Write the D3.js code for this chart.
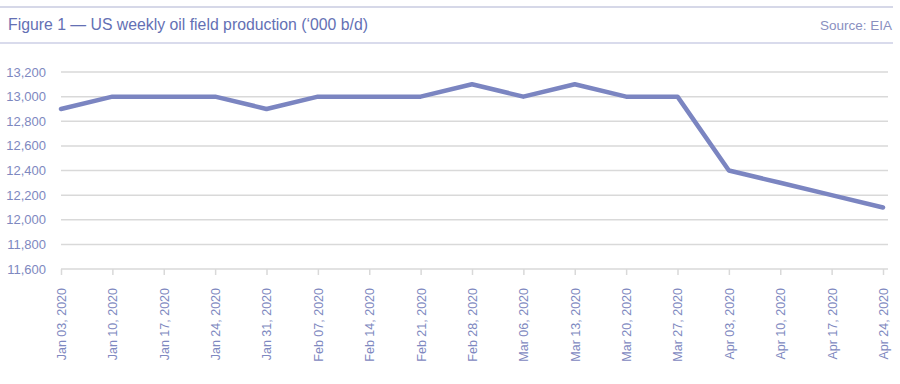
<!DOCTYPE html>
<html>
<head>
<meta charset="utf-8">
<script src="https://cdn.jsdelivr.net/npm/d3@7"></script>
<style>
  html, body { margin: 0; padding: 0; background: #ffffff; }
  svg { display: block; font-family: "Liberation Sans", Arial, sans-serif; }
</style>
</head>
<body>
<svg id="chart" width="900" height="384"></svg>
<script>
// weekly dates and production ('000 b/d)
const weeks = ['Jan 03, 2020', 'Jan 10, 2020', 'Jan 17, 2020', 'Jan 24, 2020', 'Jan 31, 2020',
    'Feb 07, 2020', 'Feb 14, 2020', 'Feb 21, 2020', 'Feb 28, 2020', 'Mar 06, 2020',
    'Mar 13, 2020', 'Mar 20, 2020', 'Mar 27, 2020', 'Apr 03, 2020', 'Apr 10, 2020',
    'Apr 17, 2020', 'Apr 24, 2020'];
const production = [12900, 13000, 13000, 13000, 12900, 13000, 13000, 13000, 13100, 13000,
    13100, 13000, 13000, 12400, 12300, 12200, 12100];
const yTicks = [11600, 11800, 12000, 12200, 12400, 12600, 12800, 13000, 13200];

const titleColor = '#6470b4';
const textColor = '#7e88c0';
const lineColor = '#7b85c1';
const gridColor = '#d9d9d9';

const svg = d3.select('#chart');

// header rules + title
svg.append('line')
    .attr('x1', 0).attr('x2', 893)
    .attr('y1', 7).attr('y2', 7)
    .attr('stroke', '#c9cbe0').attr('stroke-width', 1.5);
svg.append('line')
    .attr('x1', 0).attr('x2', 893)
    .attr('y1', 43).attr('y2', 43)
    .attr('stroke', '#b4b8da').attr('stroke-width', 1.2);

svg.append('text')
    .attr('x', 8).attr('y', 30)
    .attr('fill', titleColor)
    .style('font-size', '15.8px')
    .text('Figure 1 \u2014 US weekly oil field production (\u2018000 b/d)');

svg.append('text')
    .attr('x', 892).attr('y', 30)
    .attr('text-anchor', 'end')
    .attr('fill', '#8a90bf')
    .style('font-size', '13.5px')
    .text('Source: EIA');

// scales
const x = d3.scalePoint().domain(weeks).range([61, 883]);
const y = d3.scaleLinear().domain([11600, 13200]).range([269, 72]);

// gridlines
svg.append('g')
    .selectAll('line')
    .data(yTicks.slice(1))
    .join('line')
    .attr('x1', 61).attr('x2', 888)
    .attr('y1', d => y(d)).attr('y2', d => y(d))
    .attr('stroke', gridColor).attr('stroke-width', 1.5);

// y labels
svg.append('g')
    .selectAll('text')
    .data(yTicks)
    .join('text')
    .attr('x', 46)
    .attr('y', d => y(d))
    .attr('dy', '0.35em')
    .attr('text-anchor', 'end')
    .attr('fill', textColor)
    .style('font-size', '13px')
    .text(d => d3.format(',')(d));

// x axis
const xAxis = svg.append('g')
    .attr('transform', `translate(0,${y(11600)})`)
    .call(d3.axisBottom(x).tickSize(6).tickSizeOuter(0));

xAxis.select('.domain').remove();
xAxis.append('line')
    .attr('x1', 61).attr('x2', 888)
    .attr('stroke', gridColor).attr('stroke-width', 1.5);
xAxis.selectAll('.tick line')
    .attr('stroke', gridColor).attr('stroke-width', 1.5);
xAxis.selectAll('.tick text')
    .attr('transform', 'rotate(-90)')
    .attr('x', -19).attr('y', 0)
    .attr('dy', '0.35em')
    .attr('text-anchor', 'end')
    .attr('fill', textColor)
    .style('font-family', '"Liberation Sans", Arial, sans-serif')
    .style('font-size', '12.5px');

// production line
svg.append('path')
    .datum(production)
    .attr('fill', 'none')
    .attr('stroke', lineColor)
    .attr('stroke-width', 4.5)
    .attr('stroke-linejoin', 'round')
    .attr('stroke-linecap', 'round')
    .attr('d', d3.line()
        .x((d, i) => x(weeks[i]))
        .y(d => y(d)));
</script>
</body>
</html>
